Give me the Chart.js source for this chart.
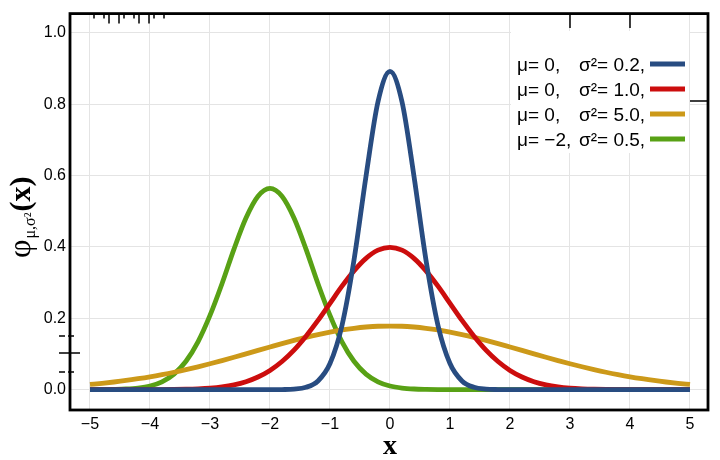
<!DOCTYPE html>
<html>
<head>
<meta charset="utf-8">
<script src="https://cdn.jsdelivr.net/npm/chart.js@4.4.1/dist/chart.umd.min.js"></script>
<style>
  html, body { margin: 0; padding: 0; background: #fff; }
  #wrap { width: 720px; height: 460px; }
</style>
</head>
<body>
<div id="wrap"><canvas id="normalChart" width="720" height="460"></canvas></div>
<script>
"use strict";

// x positions, -5 .. 5 every 0.2
var xs = [
  -5, -4.8, -4.6, -4.4, -4.2, -4, -3.8, -3.6, -3.4, -3.2,
  -3, -2.8, -2.6, -2.4, -2.2, -2, -1.8, -1.6, -1.4, -1.2,
  -1, -0.8, -0.6, -0.4, -0.2, 0, 0.2, 0.4, 0.6, 0.8,
  1, 1.2, 1.4, 1.6, 1.8, 2, 2.2, 2.4, 2.6, 2.8,
  3, 3.2, 3.4, 3.6, 3.8, 4, 4.2, 4.4, 4.6, 4.8, 5
];

// mu=0, sigma^2=0.2
var blue = [
  0, 0, 0, 0, 0, 0, 0, 0, 0, 0,
  0, 0, 0, 0, 0, 0, 0.0003, 0.0015, 0.0066, 0.0244,
  0.0732, 0.180, 0.363, 0.598, 0.807, 0.892, 0.807, 0.598, 0.363, 0.180,
  0.0732, 0.0244, 0.0066, 0.0015, 0.0003, 0, 0, 0, 0, 0,
  0, 0, 0, 0, 0, 0, 0, 0, 0, 0, 0
];

// mu=0, sigma^2=1.0
var red = [
  0, 0, 0, 0, 0, 0.0001, 0.0003, 0.0006, 0.0012, 0.0024,
  0.0044, 0.0079, 0.0136, 0.0224, 0.0355, 0.054, 0.079, 0.111, 0.150, 0.194,
  0.242, 0.290, 0.333, 0.368, 0.391, 0.399, 0.391, 0.368, 0.333, 0.290,
  0.242, 0.194, 0.150, 0.111, 0.079, 0.054, 0.0355, 0.0224, 0.0136, 0.0079,
  0.0044, 0.0024, 0.0012, 0.0006, 0.0003, 0.0001, 0, 0, 0, 0, 0
];

// mu=0, sigma^2=5.0
var gold = [
  0.0146, 0.0178, 0.0215, 0.0257, 0.0306, 0.0360, 0.0421, 0.0488, 0.0562, 0.0641,
  0.0725, 0.0815, 0.0907, 0.1003, 0.1100, 0.1196, 0.1291, 0.1381, 0.1467, 0.1545,
  0.1614, 0.1674, 0.1721, 0.1756, 0.1777, 0.178, 0.1777, 0.1756, 0.1721, 0.1674,
  0.1614, 0.1545, 0.1467, 0.1381, 0.1291, 0.1196, 0.1100, 0.1003, 0.0907, 0.0815,
  0.0725, 0.0641, 0.0562, 0.0488, 0.0421, 0.0360, 0.0306, 0.0257, 0.0215, 0.0178, 0.0146
];

// mu=-2, sigma^2=0.5
var green = [
  0.0001, 0.0002, 0.0007, 0.0018, 0.0045, 0.0103, 0.0221, 0.0436, 0.0795, 0.134,
  0.208, 0.297, 0.394, 0.481, 0.542, 0.564, 0.542, 0.481, 0.394, 0.297,
  0.208, 0.134, 0.0795, 0.0436, 0.0221, 0.0103, 0.0045, 0.0018, 0.0007, 0.0002,
  0.0001, 0, 0, 0, 0, 0, 0, 0, 0, 0,
  0, 0, 0, 0, 0, 0, 0, 0, 0, 0, 0
];

var muLabels = ["\u03bc= 0,", "\u03bc= 0,", "\u03bc= 0,", "\u03bc= \u22122,"];
var sigmaLabels = ["\u03c3\u00b2= 0.2,", "\u03c3\u00b2= 1.0,", "\u03c3\u00b2= 5.0,", "\u03c3\u00b2= 0.5,"];
var colors = ["#284c81", "#cc0d0d", "#cc9919", "#58a115"];
var series = [blue, red, gold, green];

function points(ys) {
  return xs.map(function (x, i) { return { x: x, y: ys[i] }; });
}

var datasets = series.map(function (ys, i) {
  return {
    label: muLabels[i] + " " + sigmaLabels[i],
    data: points(ys),
    borderColor: colors[i],
    backgroundColor: colors[i],
    borderWidth: 4.8,
    pointRadius: 0,
    cubicInterpolationMode: "monotone",
    fill: false
  };
});

// frame, legend box, axis titles and the little stray marks on the frame
var decorations = {
  id: "decorations",
  afterDatasetsDraw: function (chart) {
    var ctx = chart.ctx;
    var area = chart.chartArea;
    ctx.save();

    // legend box
    ctx.fillStyle = "#fff";
    ctx.fillRect(511, 31, 178, 122);
    ctx.font = "19px 'Liberation Sans', Arial, sans-serif";
    ctx.fillStyle = "#000";
    ctx.textBaseline = "alphabetic";
    for (var i = 0; i < muLabels.length; i++) {
      var cy = 64 + i * 25;
      ctx.fillText(muLabels[i], 517, cy + 7);
      ctx.fillText(sigmaLabels[i], 579, cy + 7);
      ctx.strokeStyle = colors[i];
      ctx.lineWidth = 4.8;
      ctx.beginPath();
      ctx.moveTo(650, cy);
      ctx.lineTo(685, cy);
      ctx.stroke();
    }

    // frame
    ctx.strokeStyle = "#000";
    ctx.lineWidth = 2.8;
    ctx.strokeRect(area.left, area.top, area.right - area.left, area.bottom - area.top);

    // stray marks
    ctx.lineWidth = 1.5;
    ctx.beginPath();
    [94, 104, 109, 119, 124, 134, 139, 149, 154, 164].forEach(function (x, k) {
      var long = (k % 4 === 2 || k % 4 === 3);
      ctx.moveTo(x, area.top);
      ctx.lineTo(x, area.top + (long ? 10 : 5));
    });
    ctx.moveTo(570, area.top); ctx.lineTo(570, 28);
    ctx.moveTo(630, area.top); ctx.lineTo(630, 28);
    ctx.moveTo(690, 101); ctx.lineTo(area.right, 101);
    [336, 372].forEach(function (y) {
      ctx.moveTo(59, y); ctx.lineTo(65, y);
      ctx.moveTo(68, y); ctx.lineTo(74, y);
    });
    ctx.moveTo(59, 353); ctx.lineTo(80, 353);
    ctx.stroke();

    // x title
    ctx.fillStyle = "#000";
    ctx.textAlign = "center";
    ctx.font = "bold 28px 'Liberation Serif', 'DejaVu Serif', serif";
    ctx.fillText("x", chart.scales.x.getPixelForValue(0), 454);

    // y title, rotated
    ctx.translate(30, 258);
    ctx.rotate(-Math.PI / 2);
    ctx.textAlign = "left";
    ctx.font = "32px 'Liberation Serif', 'DejaVu Serif', serif";
    ctx.fillText("\u03c6", 0, 0);
    var w = ctx.measureText("\u03c6").width;
    ctx.font = "16px 'Liberation Serif', 'DejaVu Serif', serif";
    ctx.fillText("\u03bc,\u03c3\u00b2", w + 1, 5);
    w += ctx.measureText("\u03bc,\u03c3\u00b2").width + 2;
    ctx.font = "bold 30px 'Liberation Serif', 'DejaVu Serif', serif";
    ctx.fillText("(x)", w, 0);

    ctx.restore();
  }
};

var ctx = document.getElementById("normalChart").getContext("2d");
var myChart = new Chart(ctx, {
  type: "line",
  data: { datasets: datasets },
  options: {
    responsive: false,
    animation: false,
    layout: { padding: { top: 10, right: 12, left: 0, bottom: 0 } },
    plugins: {
      legend: { display: false },
      tooltip: { enabled: false }
    },
    scales: {
      x: {
        type: "linear",
        min: -5.333,
        max: 5.3,
        afterFit: function (scale) { scale.height = 50; },
        border: { display: false },
        grid: { color: "#e4e4e4", lineWidth: 1, drawTicks: false },
        ticks: {
          stepSize: 1,
          includeBounds: false,
          padding: 5,
          color: "#000",
          font: { family: "'Liberation Sans', Arial, sans-serif", size: 16 },
          maxRotation: 0,
          callback: function (v) {
            return v < 0 ? "\u2212" + Math.abs(v) : String(v);
          }
        }
      },
      y: {
        type: "linear",
        min: -0.057,
        max: 1.054,
        afterFit: function (scale) { scale.width = 70; },
        border: { display: false },
        grid: { color: "#e4e4e4", lineWidth: 1, drawTicks: false },
        ticks: {
          stepSize: 0.2,
          includeBounds: false,
          padding: 4,
          color: "#000",
          font: { family: "'Liberation Sans', Arial, sans-serif", size: 16 },
          callback: function (v) { return v.toFixed(1); }
        }
      }
    }
  },
  plugins: [decorations]
});
</script>
</body>
</html>
